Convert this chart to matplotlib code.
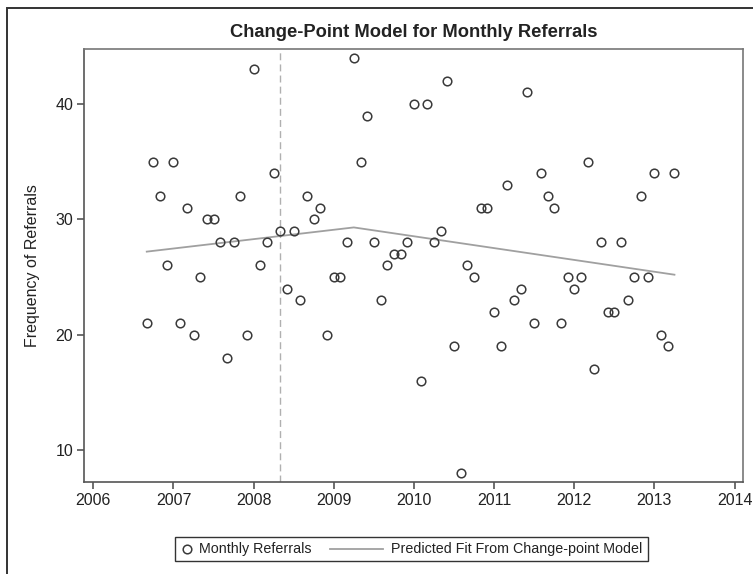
import numpy as np
import matplotlib
matplotlib.use('Agg')
import matplotlib.pyplot as plt
from matplotlib.lines import Line2D
from matplotlib.patches import Rectangle

plt.rcParams['font.family'] = ['Liberation Sans', 'DejaVu Sans']

# monthly referral counts, Sep 2006 .. Apr 2013
start_year, start_month = 2006, 9
referrals = [
    21, 35, 32, 26,                                      # 2006 Sep-Dec
    35, 21, 31, 20, 25, 30, 30, 28, 18, 28, 32, 20,      # 2007
    43, 26, 28, 34, 29, 24, 29, 23, 32, 30, 31, 20,      # 2008
    25, 25, 28, 44, 35, 39, 28, 23, 26, 27, 27, 28,      # 2009
    40, 16, 40, 28, 29, 42, 19, 8, 26, 25, 31, 31,       # 2010
    22, 19, 33, 23, 24, 41, 21, 34, 32, 31, 21, 25,      # 2011
    24, 25, 35, 17, 28, 22, 22, 28, 23, 25, 32, 25,      # 2012
    34, 20, 19, 34,                                      # 2013 Jan-Apr
]
# piecewise-linear fit (start, change point, end)
fit_x = [2006 + 8 / 12, 2009 + 3 / 12, 2013 + 3 / 12]
fit_y = [27.2, 29.3, 25.2]
change_date = 2008 + 4 / 12   # dashed line

months = np.arange(len(referrals))
x = start_year + (start_month - 1) / 12 + months / 12

W, H = 753, 574
fig = plt.figure(figsize=(W / 100, H / 100), dpi=100)
ax = fig.add_axes([0.112, 0.1608, 0.8747, 0.7538])

fit_col = '#a0a0a0'
mk = dict(ls='none', marker='o', ms=6.2, mfc='none', mec='#3a3a3a', mew=1.1)

ax.plot(fit_x, fit_y, color=fit_col, lw=1.3, zorder=2)
ax.axvline(change_date, color='#b0b0b0', lw=1.0, ls=(0, (5, 3)), zorder=1)
ax.plot(x, referrals, zorder=3, **mk)

ax.set_xlim(2005.888, 2014.105)
ax.set_ylim(7.25, 44.77)
ax.set_xticks(range(2006, 2015))
ax.set_yticks([10, 20, 30, 40])
ax.tick_params(direction='out', length=5, width=1.2, color='#555555',
               labelsize=11.5, labelcolor='#222222', pad=3)
for s in ax.spines.values():
    s.set_color('#777777')
    s.set_linewidth(1.2)
ax.spines['left'].set_color('#555555')
ax.spines['bottom'].set_color('#555555')

ax.set_ylabel('Frequency of Referrals', fontsize=11.5, color='#222222', labelpad=11)
fig.text(0.549, 0.944, 'Change-Point Model for Monthly Referrals',
         ha='center', va='center', fontsize=13.2, fontweight='bold', color='#222222')

# legend drawn by hand (pixel layout of the reference)
def fx(px): return px / W
def fy(py): return 1 - py / H

ly = fy(549)
fig.patches.append(Rectangle((fx(175), fy(561)), fx(648) - fx(175), fy(537) - fy(561),
                             transform=fig.transFigure, fill=False, ec='#333333', lw=1.0))
fig.lines.append(Line2D([fx(187)], [ly], transform=fig.transFigure, **mk))
fig.text(fx(199), ly, 'Monthly Referrals', ha='left', va='center',
         fontsize=10.3, color='#222222')
fig.lines.append(Line2D([fx(330), fx(383)], [ly, ly], transform=fig.transFigure,
                        color=fit_col, lw=1.3))
fig.text(fx(391), ly, 'Predicted Fit From Change-point Model', ha='left', va='center',
         fontsize=10.3, color='#222222')

# outer border of the figure (left/top visible)
fig.patches.append(Rectangle((7.3 / W, -0.1), 1.2, 1.1 - 8.3 / H, transform=fig.transFigure,
                             fill=False, ec='#333333', lw=1.4))

fig.savefig('out.png', dpi=100)
